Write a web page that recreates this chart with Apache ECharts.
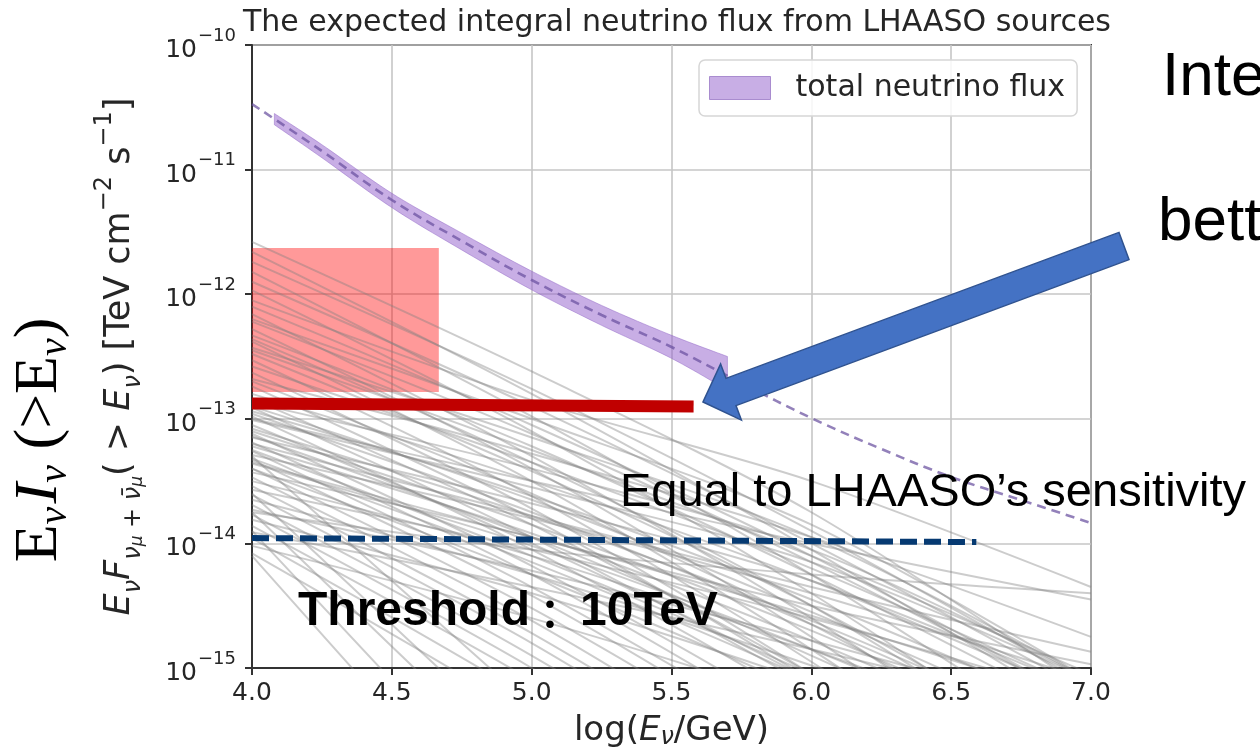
<!DOCTYPE html>
<html><head><meta charset="utf-8">
<script src="https://cdn.jsdelivr.net/npm/echarts@6/dist/echarts.min.js"></script>
<style>html,body{margin:0;padding:0;background:#fff}#c{width:1260px;height:755px}</style>
</head><body><div id="c"></div>
<script>
// ---------- data (log10 exponents) ----------
const yTickExp = [-15, -14, -13, -12, -11, -10];
const grayX = [4.0, 5.0, 6.0, 7.0];
const grayExp = [
  [-11.58,-12.62,-13.75,-15.20],[-11.66,-12.80,-14.05,-15.40],[-11.74,-12.76,-13.90,-15.15],
  [-11.82,-12.98,-14.25,-15.70],[-11.90,-12.90,-14.00,-15.20],[-11.97,-13.10,-14.40,-15.90],
  [-12.05,-12.85,-13.50,-14.35],[-12.10,-13.05,-14.10,-15.30],[-12.16,-13.30,-14.60,-16.10],
  [-12.22,-13.12,-14.15,-15.30],[-12.28,-13.40,-14.75,-16.30],[-12.33,-13.22,-14.25,-15.40],
  [-12.38,-13.50,-14.85,-16.40],[-12.43,-13.15,-13.95,-15.10],[-12.48,-13.42,-14.50,-15.75],
  [-12.53,-13.62,-14.95,-16.50],[-12.58,-13.35,-14.20,-15.20],[-12.63,-13.72,-15.05,-16.60],
  [-12.68,-13.28,-13.95,-14.75],[-12.74,-13.80,-15.10,-16.60],
  [-12.80,-13.50,-14.30,-15.25],[-12.84,-13.85,-15.05,-16.40],[-12.87,-13.40,-14.05,-15.10],
  [-12.91,-13.95,-15.15,-16.50],[-12.94,-13.62,-14.45,-15.40],[-12.98,-14.05,-15.30,-16.70],
  [-13.01,-13.55,-14.15,-15.10],[-13.05,-14.00,-15.10,-16.40],[-13.08,-13.78,-14.62,-15.60],
  [-13.12,-14.18,-15.45,-16.90],[-13.15,-13.68,-14.30,-15.20],[-13.19,-14.25,-15.55,-17.00],
  [-13.22,-13.92,-14.78,-15.75],[-13.26,-14.35,-15.65,-17.10],[-13.29,-13.80,-14.40,-15.10],
  [-13.33,-14.42,-15.75,-17.20],[-13.36,-14.02,-14.85,-15.80],[-13.40,-14.52,-15.85,-17.30],
  [-13.43,-13.95,-14.58,-15.30],[-13.47,-14.62,-16.00,-17.50],[-13.50,-14.10,-14.85,-15.70],
  [-13.54,-14.72,-16.10,-17.60],[-13.57,-14.05,-14.60,-15.25],[-13.61,-14.80,-16.20,-17.70],
  [-13.65,-14.25,-14.98,-15.80],[-13.69,-14.90,-16.30,-17.80],[-13.73,-14.22,-14.78,-15.40],
  [-13.77,-15.00,-16.40,-18.00],[-13.81,-14.40,-15.12,-15.95],[-13.86,-15.10,-16.50,-18.00],
  [-13.91,-14.35,-14.85,-15.40],[-13.96,-15.25,-16.70,-18.20],[-14.02,-14.60,-15.30,-16.10],
  [-14.08,-15.40,-16.90,-18.40],
  [-13.30,-15.30,-17.30,-19.30],[-13.60,-15.70,-17.80,-19.90],[-13.90,-16.30,-18.70,-21.00],
  [-14.10,-16.60,-19.00,-21.50],[-13.75,-15.90,-18.00,-20.00],
  [-13.75,-14.05,-14.25,-14.40],[-13.00,-13.50,-14.00,-14.45],[-13.20,-13.78,-14.35,-14.87],
  [-13.35,-13.95,-14.50,-14.97],
  [-12.20,-13.00,-13.85,-15.10],[-12.45,-13.25,-14.10,-15.05],[-12.90,-13.65,-14.55,-15.55],
  [-13.10,-13.85,-14.70,-15.70],[-12.70,-13.60,-14.65,-15.90],[-12.36,-13.35,-14.50,-15.90],
  [-13.25,-14.10,-15.05,-16.10],[-13.40,-14.25,-15.20,-16.30],
  [-12.96,-13.75,-14.65,-15.65],[-13.14,-13.95,-14.90,-15.95],[-13.32,-14.15,-15.10,-16.20]
];
const fluxX = [4.0, 4.25, 4.5, 4.75, 5.0, 5.25, 5.5, 5.75, 6.0, 6.25, 6.5, 6.75, 7.0];
const fluxExp = [-10.474, -10.851, -11.244, -11.573, -11.886, -12.167, -12.424, -12.713, -12.994, -13.242, -13.467, -13.652, -13.836];
const bandX = [4.08, 4.25, 4.5, 4.75, 5.0, 5.25, 5.5, 5.7];
const bandHiExp = [-10.550, -10.800, -11.190, -11.510, -11.815, -12.090, -12.330, -12.500];
const bandLoExp = [-10.640, -10.905, -11.305, -11.645, -11.965, -12.250, -12.515, -12.770];
const redLineX = [4.0, 5.579];
const redLineY = [1.327e-13, 1.256e-13];
const sensX = [4.0, 6.59];
const sensY = [1.104e-14, 1.025e-14];
const redBoxX = [4.0, 4.668];
const redBoxY = [2.35e-12, 1.64e-13];
// ------------------------------------------------------------------

const chart = echarts.init(document.getElementById('c'), null, {renderer: 'canvas'});
const p10 = e => Math.pow(10, e);
const FONT = 'DejaVu Sans';

// smooth an edge (pixel points) with a Catmull-Rom style bezier, for drawing only
function smoothEdge(pts) {
  const out = [pts[0]];
  for (let i = 0; i < pts.length - 1; i++) {
    const p0 = pts[i - 1] || pts[i], p1 = pts[i], p2 = pts[i + 1], p3 = pts[i + 2] || pts[i + 1];
    const c1 = [p1[0] + (p2[0] - p0[0]) / 6, p1[1] + (p2[1] - p0[1]) / 6];
    const c2 = [p2[0] - (p3[0] - p1[0]) / 6, p2[1] - (p3[1] - p1[1]) / 6];
    for (let s = 1; s <= 12; s++) {
      const t = s / 12, u = 1 - t;
      out.push([
        u*u*u*p1[0] + 3*u*u*t*c1[0] + 3*u*t*t*c2[0] + t*t*t*p2[0],
        u*u*u*p1[1] + 3*u*u*t*c1[1] + 3*u*t*t*c2[1] + t*t*t*p2[1]
      ]);
    }
  }
  return out;
}

const series = [];
grayExp.forEach((row, k) => {
  series.push({
    type: 'line', name: 'src' + k, silent: true, z: 1, symbol: 'none', smooth: 0.3,
    data: grayX.map((x, i) => [x, p10(row[i])]),
    lineStyle: {color: 'rgba(128,128,128,0.4)', width: 2}
  });
});
series.push({
  type: 'line', name: 'box', silent: true, z: 3, data: [],
  markArea: {silent: true, itemStyle: {color: 'rgba(255,0,0,0.4)'},
    data: [[{coord: [redBoxX[0], redBoxY[0]]}, {coord: [redBoxX[1], redBoxY[1]]}]]}
});
series.push({
  type: 'custom', name: 'total neutrino flux', z: 4, silent: true,
  data: bandX.map((x, i) => [x, p10(bandHiExp[i]), p10(bandLoExp[i])]),
  encode: {x: 0, y: [1, 2]},
  renderItem: function (params, api) {
    if (params.dataIndex !== 0) return null;
    const up = smoothEdge(bandX.map((x, i) => api.coord([x, p10(bandHiExp[i])])));
    const lo = smoothEdge(bandX.map((x, i) => api.coord([x, p10(bandLoExp[i])]))).reverse();
    return {type: 'polygon', shape: {points: up.concat(lo)},
      style: {fill: 'rgba(150,100,205,0.52)', stroke: 'rgba(140,95,195,0.45)', lineWidth: 1}};
  }
});
series.push({
  type: 'line', name: 'fluxline', silent: true, z: 5, symbol: 'none', smooth: 0.4,
  data: fluxX.map((x, i) => [x, p10(fluxExp[i])]),
  lineStyle: {color: 'rgba(105,80,160,0.72)', width: 2.6, type: [9, 6]}
});
series.push({
  type: 'line', name: 'sens', silent: true, z: 6, symbol: 'none',
  data: sensX.map((x, i) => [x, sensY[i]]),
  lineStyle: {color: '#063a72', width: 6, type: [17, 7], cap: 'butt'}
});
series.push({
  type: 'line', name: 'redline', silent: true, z: 7, symbol: 'none',
  data: redLineX.map((x, i) => [x, redLineY[i]]),
  lineStyle: {color: '#c00000', width: 12, cap: 'butt'}
});

// arrow geometry (annotation, pixels)
const arrowPts = [[703,402],[741.4,420.1],[736,405.6],[1129,259.6],[1119,232.4],[726,378.4],[720.6,363.9]];

const option = {
  animation: false,
  backgroundColor: '#ffffff',
  title: {
    text: 'The expected integral neutrino flux from LHAASO sources',
    left: 672, top: 3, textAlign: 'center',
    textStyle: {fontSize: 30, fontWeight: 'normal', fontFamily: FONT, color: '#262626'}
  },
  legend: {
    left: 699, top: 60, orient: 'horizontal',
    padding: [13, 12, 13, 10],
    itemWidth: 61, itemHeight: 23,
    backgroundColor: 'rgba(255,255,255,0.85)', borderColor: '#d6d6d6', borderWidth: 1.5, borderRadius: 6,
    textStyle: {fontSize: 30, fontFamily: FONT, color: '#262626', padding: [0, 0, 0, 20]},
    data: [{name: 'total neutrino flux', icon: 'rect',
      itemStyle: {color: 'rgba(150,100,205,0.52)', borderColor: 'rgba(130,90,185,0.6)', borderWidth: 1}}]
  },
  grid: {left: 252, right: 169, top: 45, bottom: 87, show: true, borderColor: '#333', borderWidth: 2, backgroundColor: 'transparent'},
  xAxis: {
    type: 'value', min: 4, max: 7, interval: 0.5,
    axisLine: {show: true, lineStyle: {color: '#333', width: 2}},
    axisTick: {show: true, length: 7, lineStyle: {color: '#333', width: 2}},
    axisLabel: {formatter: v => v.toFixed(1), fontSize: 25, fontFamily: FONT, color: '#262626', margin: 13},
    splitLine: {show: true, lineStyle: {color: '#c6c6c6', width: 1.6}},
    name: '{n|log(}{i|E}{sb|ν}{n|/GeV)}', nameLocation: 'middle', nameGap: 44,
    nameTextStyle: {rich: {
      n: {fontSize: 34, fontFamily: FONT, color: '#262626', verticalAlign: 'middle'},
      i: {fontSize: 34, fontFamily: FONT, fontStyle: 'italic', color: '#262626', verticalAlign: 'middle'},
      sb: {fontSize: 24, fontFamily: FONT, fontStyle: 'italic', color: '#262626', verticalAlign: 'bottom', padding: [14, 0, 0, 0]}
    }}
  },
  yAxis: {
    type: 'log', logBase: 10, min: p10(yTickExp[0]), max: p10(yTickExp[yTickExp.length - 1]),
    axisLine: {show: true, lineStyle: {color: '#333', width: 2}},
    axisTick: {show: true, length: 7, lineStyle: {color: '#333', width: 2}},
    axisLabel: {
      margin: 16,
      formatter: v => '{b|10}{s|−' + Math.round(-Math.log10(v)) + '}',
      rich: {
        b: {fontSize: 25, fontFamily: FONT, color: '#262626', verticalAlign: 'bottom'},
        s: {fontSize: 18, fontFamily: FONT, color: '#262626', verticalAlign: 'top', padding: [0, 0, 18, 1]}
      }
    },
    splitLine: {show: true, lineStyle: {color: '#c6c6c6', width: 1.6}},
    name: '{i|E}{sb|ν}{i|F}{sb|ν}{ss|μ}{sbn| + }{sb|ν̄}{ss|μ}{n|( > }{i|E}{sb|ν}{n|) [TeV cm}{sp|−2}{n| s}{sp|−1}{n|]}',
    nameLocation: 'middle', nameRotate: 90, nameGap: 106,
    nameTextStyle: {rich: {
      n: {fontSize: 35, fontFamily: FONT, color: '#262626', verticalAlign: 'middle'},
      i: {fontSize: 35, fontFamily: FONT, fontStyle: 'italic', color: '#262626', verticalAlign: 'middle'},
      sb: {fontSize: 24, fontFamily: FONT, fontStyle: 'italic', color: '#262626', verticalAlign: 'bottom', padding: [22, 0, 0, 0]},
      sbn: {fontSize: 24, fontFamily: FONT, color: '#262626', verticalAlign: 'bottom', padding: [22, 0, 0, 0]},
      ss: {fontSize: 17, fontFamily: FONT, fontStyle: 'italic', color: '#262626', verticalAlign: 'bottom', padding: [36, 0, 0, 0]},
      sp: {fontSize: 24, fontFamily: FONT, color: '#262626', verticalAlign: 'top', padding: [0, 0, 24, 0]}
    }}
  },
  graphic: [
    {type: 'polygon', z: 100, shape: {points: arrowPts},
      style: {fill: '#4472c4', stroke: '#2f528f', lineWidth: 1.5}},
    {type: 'text', z: 100, x: 40, y: 440, rotation: Math.PI / 2,
      style: {text: '{r|E}{sb|ν} {it|I}{sb|ν}{r| (>E}{sb|ν}{r|)}', align: 'center', verticalAlign: 'middle',
        rich: {
          r: {fontSize: 62, fontFamily: 'Liberation Serif', fill: '#000', verticalAlign: 'middle'},
          it: {fontSize: 62, fontFamily: 'Liberation Serif', fontStyle: 'italic', fill: '#000', verticalAlign: 'middle'},
          sb: {fontSize: 40, fontFamily: 'Liberation Serif', fontStyle: 'italic', fill: '#000', verticalAlign: 'bottom', padding: [30, 0, 0, 0]}
        }}},
    {type: 'text', z: 100, x: 1162, y: 78,
      style: {text: 'Inte', font: '62px "Liberation Sans", Arial, sans-serif', fill: '#000', verticalAlign: 'middle'}},
    {type: 'text', z: 100, x: 1158, y: 223,
      style: {text: 'bett', font: '62px "Liberation Sans", Arial, sans-serif', fill: '#000', verticalAlign: 'middle'}},
    {type: 'text', z: 100, x: 620, y: 493,
      style: {text: 'Equal to LHAASO’s sensitivity', font: '47px "Liberation Sans", Arial, sans-serif', fill: '#000', verticalAlign: 'middle'}},
    {type: 'text', z: 100, x: 298, y: 612,
      style: {text: '{a|Threshold}{c|：}{a|10TeV}', align: 'left', verticalAlign: 'middle',
        rich: {
          a: {fontSize: 48, fontWeight: 'bold', fontFamily: '"Liberation Sans", Arial, sans-serif', fill: '#000', verticalAlign: 'middle'},
          c: {fontSize: 40, fontWeight: 'bold', fontFamily: '"Noto Sans CJK SC"', fill: '#000', verticalAlign: 'middle', padding: [0, 0, 0, 10]}
        }}}
  ],
  series: series
};
chart.setOption(option);
</script></body></html>
